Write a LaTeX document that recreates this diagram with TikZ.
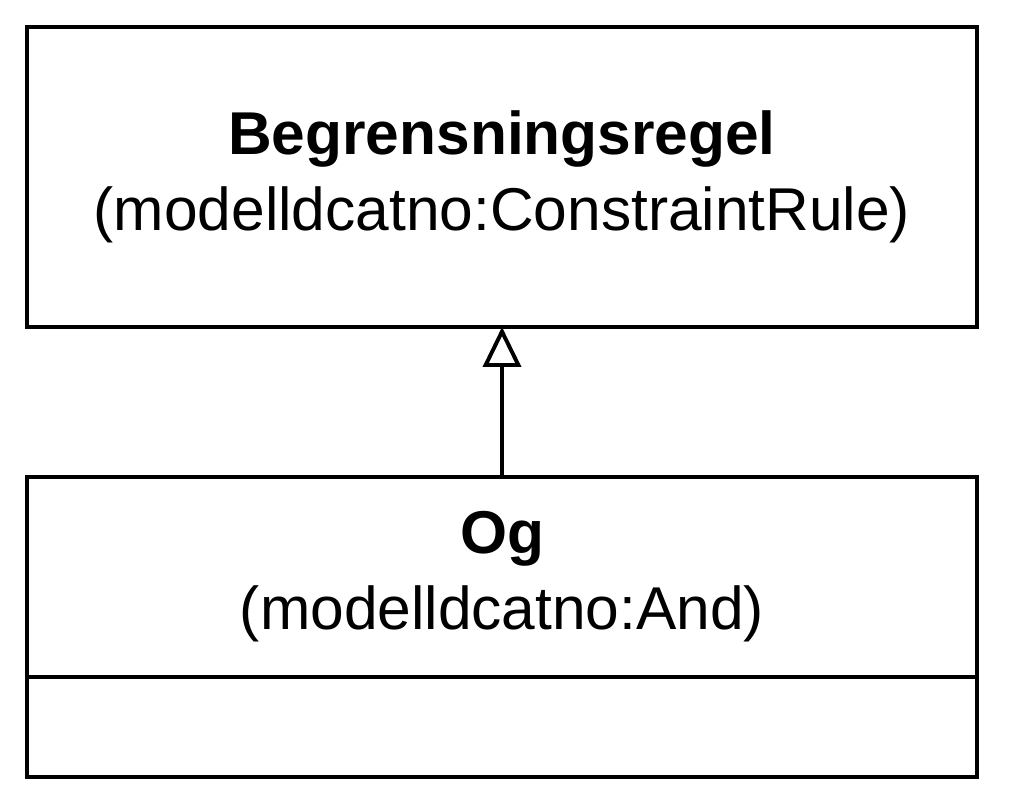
\documentclass[tikz,border=0pt]{standalone}
\usepackage{fontspec}
\setmainfont{Liberation Sans}
\usetikzlibrary{arrows.meta, positioning}
\tikzset{
    umlbox/.style={
        rectangle, draw=black, line width=2.8pt, fill=white, outer sep=0pt,
        align=center, minimum width=23.75cm, inner sep=0pt,
        font=\fontsize{43}{54}\selectfont
    },
    inherit/.style={draw=black, line width=2.8pt,
        -{Triangle[open, length=1cm, width=0.95cm, line width=2.8pt]}}
}
\begin{document}
\begin{tikzpicture}[node distance=3.75cm]
\useasboundingbox (0,0) rectangle (25.25,20.25);

% Superclass
\node[umlbox, minimum height=7.5cm] (regel) at (12.55,15.825)
    {\textbf{Begrensningsregel}\\(modelldcatno:ConstraintRule)};

% Subclass with empty attribute part
\node[umlbox, minimum height=5cm, below=of regel] (og)
    {\textbf{Og}\\(modelldcatno:And)};
\node[umlbox, minimum height=2.5cm, below=0pt of og] (ogattr) {};

% Generalisation
\draw[inherit] (og) -- (regel);

\end{tikzpicture}
\end{document}
